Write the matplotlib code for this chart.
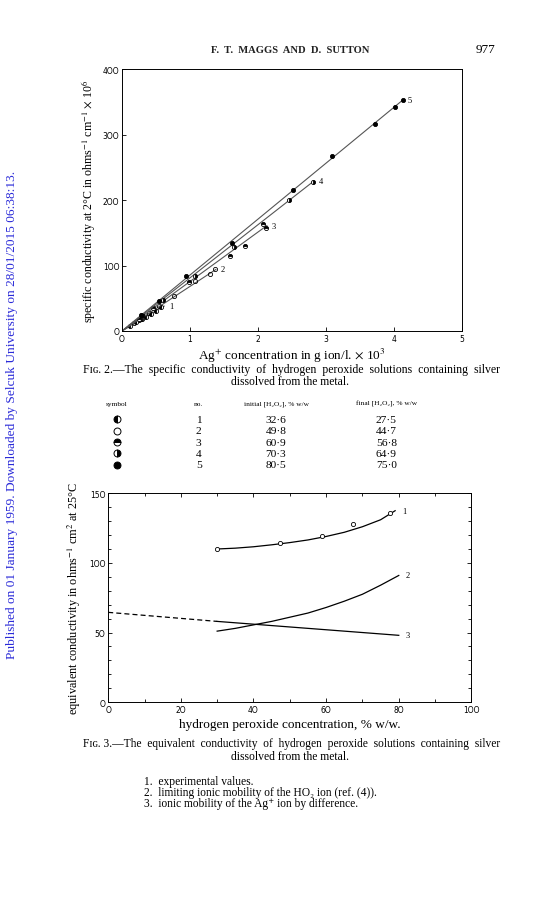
import numpy as np
import matplotlib.pyplot as plt
from matplotlib.lines import Line2D

plt.rcParams['font.family'] = ['Liberation Serif', 'DejaVu Serif']
plt.rcParams['mathtext.fontset'] = 'stix'

# ---- Fig. 2 data: specific conductivity vs Ag+ concentration ----
s1_x = [0.12, 0.2, 0.25, 0.3, 0.35, 0.42, 0.5, 0.58]
s1_y = [8, 13, 16, 19, 22, 26, 31, 36]
s2_x = [0.18, 0.28, 0.4, 0.55, 0.77, 1.07, 1.30, 1.37]
s2_y = [12, 19, 27, 38, 53, 76, 87, 94]
s3_x = [0.25, 0.45, 0.99, 1.59, 1.81, 2.07, 2.12]
s3_y = [19, 35, 75, 115, 130, 163, 157]
s4_x = [0.3, 0.6, 1.07, 1.64, 2.46, 2.81]
s4_y = [24, 48, 84, 128, 200, 228]
s5_x = [0.28, 0.55, 0.94, 1.62, 2.52, 3.09, 3.72, 4.02, 4.13]
s5_y = [24, 46, 84, 135, 215, 268, 316, 343, 353]
fit_end_x = [0.62, 1.38, 2.13, 2.82, 4.13]
fit_end_y = [38, 94, 161, 229, 353]
series_no = ['1', '2', '3', '4', '5']
fills = ['left', 'none', 'top', 'right', 'full']

# table under Fig. 2
init_h2o2 = ['32·6', '49·8', '60·9', '70·3', '80·5']
final_h2o2 = ['27·5', '44·7', '56·8', '64·9', '75·0']

# ---- Fig. 3 data: equivalent conductivity vs H2O2 concentration ----
c1_pts_x = [30, 47.3, 58.8, 67.3, 77.6]
c1_pts_y = [109.8, 114.6, 119, 127.8, 136]
c1_x = [30, 35, 40, 45, 50, 55, 60, 65, 70, 75, 79]
c1_y = [110, 110.6, 111.6, 113, 114.6, 116.5, 119, 122, 126, 131, 137.5]
c2_x = [30, 35, 40, 45, 50, 55, 60, 65, 70, 75, 80]
c2_y = [51, 53, 55.5, 58, 61, 64, 68, 72.5, 77.5, 84, 91]
c3_dash_x = [0, 30]
c3_dash_y = [64.5, 58]
c3_x = [30, 80]
c3_y = [58, 48]

fig = plt.figure(figsize=(5.52, 9.12), dpi=100)

# header
fig.text(0.525, 0.945, 'F.  T.  MAGGS  AND  D.  SUTTON', ha='center', va='center',
         fontsize=7.6, fontweight='bold', color='#222222')
fig.text(0.897, 0.945, '977', ha='right', va='center', fontsize=9.5)

# blue side text
fig.text(0.022, 0.545,
         'Published on 01 January 1959. Downloaded by Selcuk University on 28/01/2015 06:38:13.',
         rotation=90, ha='center', va='center', fontsize=9.6, color='#2a2ad8')

# ---- Fig. 2 ----
ax1 = fig.add_axes([0.221, 0.636, 0.616, 0.287])
series = [(s1_x, s1_y), (s2_x, s2_y), (s3_x, s3_y), (s4_x, s4_y), (s5_x, s5_y)]
for i, (xs, ys) in enumerate(series):
    ax1.plot([0, fit_end_x[i]], [0, fit_end_y[i]], color='#555555', lw=0.8)
    ax1.plot(xs, ys, ls='none', marker='o', ms=3.0, fillstyle=fills[i],
             color='black', markerfacecoloralt='white', mew=0.6)
    ax1.text(fit_end_x[i] + 0.07, fit_end_y[i], series_no[i], fontsize=6,
             ha='left', va='center')
ax1.set_xlim(0, 5)
ax1.set_ylim(0, 400)
ax1.set_xticks([0, 1, 2, 3, 4, 5])
ax1.set_xticklabels(['O', '1', '2', '3', '4', '5'])
ax1.set_yticks([0, 100, 200, 300, 400])
ax1.set_yticklabels(['O', '1OO', '2OO', '3OO', '4OO'])
ax1.tick_params(direction='in', length=3, width=0.6, labelsize=5.5, pad=2,
                labelfontfamily='DejaVu Sans')
for sp in ax1.spines.values():
    sp.set_linewidth(0.7)
ax1.set_xlabel('Ag$^{+}$ concentration in g ion/l. $\\times$ 10$^{3}$', fontsize=9.5, labelpad=2)
ax1.set_ylabel('specific conductivity at 2°C in ohms$^{-1}$ cm$^{-1}$ $\\times$ 10$^{6}$',
               fontsize=8.6, labelpad=4)

# caption Fig. 2
fig.text(0.151, 0.594, 'Fɪɢ. 2.—The  specific  conductivity  of  hydrogen  peroxide  solutions  containing  silver',
         ha='left', va='center', fontsize=8.45)
fig.text(0.525, 0.581, 'dissolved from the metal.', ha='center', va='center', fontsize=8.4)

# table
col_x = [0.212, 0.36, 0.5, 0.7]
head_y = 0.557
fig.text(col_x[0], head_y, 'symbol', ha='center', va='center', fontsize=5.3)
fig.text(col_x[1], head_y, 'no.', ha='center', va='center', fontsize=5.3)
fig.text(col_x[2], head_y, 'initial [H₂O₂], % w/w', ha='center', va='center', fontsize=5.3)
fig.text(col_x[3], head_y, 'final [H₂O₂], % w/w', ha='center', va='center', fontsize=5.3)
for i in range(5):
    ry = 0.539 - i * 0.0124
    fig.add_artist(Line2D([col_x[0]], [ry], transform=fig.transFigure, ls='none',
                          marker='o', ms=5, fillstyle=fills[i], color='black',
                          markerfacecoloralt='white', mew=0.7))
    fig.text(col_x[1], ry, series_no[i], ha='center', va='center', fontsize=8.2)
    fig.text(col_x[2], ry, init_h2o2[i], ha='center', va='center', fontsize=8.2)
    fig.text(col_x[3], ry, final_h2o2[i], ha='center', va='center', fontsize=8.2)

# ---- Fig. 3 ----
ax2 = fig.add_axes([0.196, 0.229, 0.658, 0.229])
ax2.plot(c1_x, c1_y, color='black', lw=0.9)
ax2.plot(c1_pts_x, c1_pts_y, ls='none', marker='o', ms=3, mfc='white', mec='black', mew=0.6)
ax2.plot(c2_x, c2_y, color='black', lw=0.9)
ax2.plot(c3_dash_x, c3_dash_y, color='black', lw=0.9, ls=(0, (4, 2.5)))
ax2.plot(c3_x, c3_y, color='black', lw=0.9)
ax2.text(c1_x[-1] + 2, c1_y[-1], '1', fontsize=6, va='center')
ax2.text(c2_x[-1] + 2, c2_y[-1], '2', fontsize=6, va='center')
ax2.text(c3_x[-1] + 2, c3_y[-1], '3', fontsize=6, va='center')
ax2.set_xlim(0, 100)
ax2.set_ylim(0, 150)
ax2.set_xticks([0, 20, 40, 60, 80, 100])
ax2.set_xticklabels(['O', '2O', '4O', '6O', '8O', '1OO'])
ax2.set_xticks(np.arange(0, 101, 10), minor=True)
ax2.set_yticks([0, 50, 100, 150])
ax2.set_yticklabels(['O', '5O', '1OO', '15O'])
ax2.set_yticks(np.arange(0, 151, 10), minor=True)
ax2.tick_params(which='both', direction='in', top=True, right=True, width=0.6,
                labelsize=5.5, pad=2, labelfontfamily='DejaVu Sans')
ax2.tick_params(which='major', length=3)
ax2.tick_params(which='minor', length=2)
for sp in ax2.spines.values():
    sp.set_linewidth(0.7)
ax2.set_xlabel('hydrogen peroxide concentration, % w/w.', fontsize=9.5, labelpad=3)
ax2.set_ylabel('equivalent conductivity in ohms$^{-1}$ cm$^{2}$ at 25°C', fontsize=8.8, labelpad=4)

# caption Fig. 3
fig.text(0.151, 0.184, 'Fɪɢ. 3.—The  equivalent  conductivity  of  hydrogen  peroxide  solutions  containing  silver',
         ha='left', va='center', fontsize=8.3)
fig.text(0.525, 0.170, 'dissolved from the metal.', ha='center', va='center', fontsize=8.4)
notes = ['1.  experimental values.',
         '2.  limiting ionic mobility of the HO₂ ion (ref. (4)).',
         '3.  ionic mobility of the Ag⁺ ion by difference.']
for i, n in enumerate(notes):
    fig.text(0.26, 0.143 - i * 0.0124, n, ha='left', va='center', fontsize=8.3)

plt.savefig('out.png', dpi=100)
plt.close()
